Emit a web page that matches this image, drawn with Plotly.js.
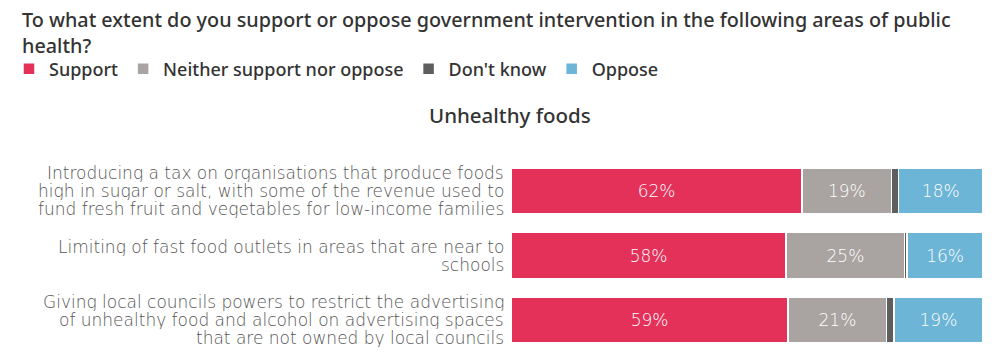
<!DOCTYPE html>
<html><head><meta charset="utf-8">
<script src="https://cdn.plot.ly/plotly-3.0.1.min.js"></script>
<style>html,body{margin:0;padding:0;background:#fff}</style>
</head><body><div id="chart" style="width:1000px;height:356px"></div>
<script>
// Data
const categories = [
  "Introducing a tax on organisations that produce foods<br>high in sugar or salt, with some of the revenue used to<br>fund fresh fruit and vegetables for low-income families",
  "Limiting of fast food outlets in areas that are near to<br>schools",
  "Giving local councils powers to restrict the advertising<br>of unhealthy food and alcohol on advertising spaces<br>that are not owned by local councils"
];
const seriesNames = ["Support", "Neither support nor oppose", "Don't know", "Oppose"];
const support  = [62, 58, 59];
const neither  = [19, 25, 21];
const dontKnow = [1.5, 0.5, 1.5];
const oppose   = [18, 16, 19];
const chartTitle = "To what extent do you support or oppose government intervention in the following areas of public<br>health?";
const subTitle = "Unhealthy foods";

const colors = ["#e3315a", "#a9a4a1", "#5e5e5e", "#6cb5d6"];
const values = [support, neither, dontKnow, oppose];
const showText = [true, true, false, true];
const bodyFont = "DejaVu Sans";
const headFont = "Noto Sans";

const traces = values.map((vals, i) => ({
  type: "bar",
  orientation: "h",
  name: seriesNames[i],
  y: categories,
  x: vals,
  marker: {color: colors[i], line: {color: "#ffffff", width: 1.5}},
  text: showText[i] ? vals.map(v => v + "%") : vals.map(() => ""),
  textposition: "inside",
  insidetextanchor: "middle",
  textfont: {family: bodyFont, size: 17, color: "#ffffff", weight: 200},
  hoverinfo: "none"
}));

// category labels as line-by-line annotations (tight line spacing)
const lineGap = 18;
const annotations = [];
categories.forEach(cat => {
  const lines = cat.split("<br>");
  const n = lines.length;
  lines.forEach((ln, i) => {
    annotations.push({
      xref: "paper", yref: "y", x: 0, y: cat,
      xanchor: "right", yanchor: "middle",
      xshift: -6, yshift: ((n - 1) / 2 - i) * lineGap,
      height: lineGap, borderpad: 0, valign: "middle",
      text: ln, showarrow: false,
      font: {family: bodyFont, size: 17, color: "#555555", weight: 200}
    });
  });
});
annotations.push({
  xref: "paper", yref: "paper", x: -0.002, y: 1.228,
  xanchor: "center", yanchor: "middle",
  text: subTitle, showarrow: false,
  font: {family: headFont, size: 20.5, color: "#333333", weight: 500}
});

const layout = {
  width: 1000, height: 356,
  margin: {l: 511, r: 17, t: 159, b: 4},
  paper_bgcolor: "#ffffff", plot_bgcolor: "#ffffff",
  barmode: "stack", barnorm: "percent", bargap: 0.29,
  title: {
    text: chartTitle, xref: "container", yref: "container",
    x: 0.022, xanchor: "left", y: 0.924, yanchor: "top",
    font: {family: headFont, size: 19.8, color: "#333333", weight: 500}
  },
  showlegend: true,
  legend: {
    orientation: "h", xref: "paper", yref: "paper",
    x: -1.0636, xanchor: "left", y: 1.466, yanchor: "middle",
    font: {family: headFont, size: 18, color: "#333333", weight: 500},
    traceorder: "normal", itemclick: false, itemdoubleclick: false
  },
  xaxis: {range: [0, 100], visible: false, fixedrange: true},
  yaxis: {autorange: "reversed", showticklabels: false, showgrid: false, zeroline: false, showline: false, fixedrange: true},
  annotations: annotations
};

Plotly.newPlot("chart", traces, layout, {displayModeBar: false, staticPlot: true});
</script>
</body></html>
